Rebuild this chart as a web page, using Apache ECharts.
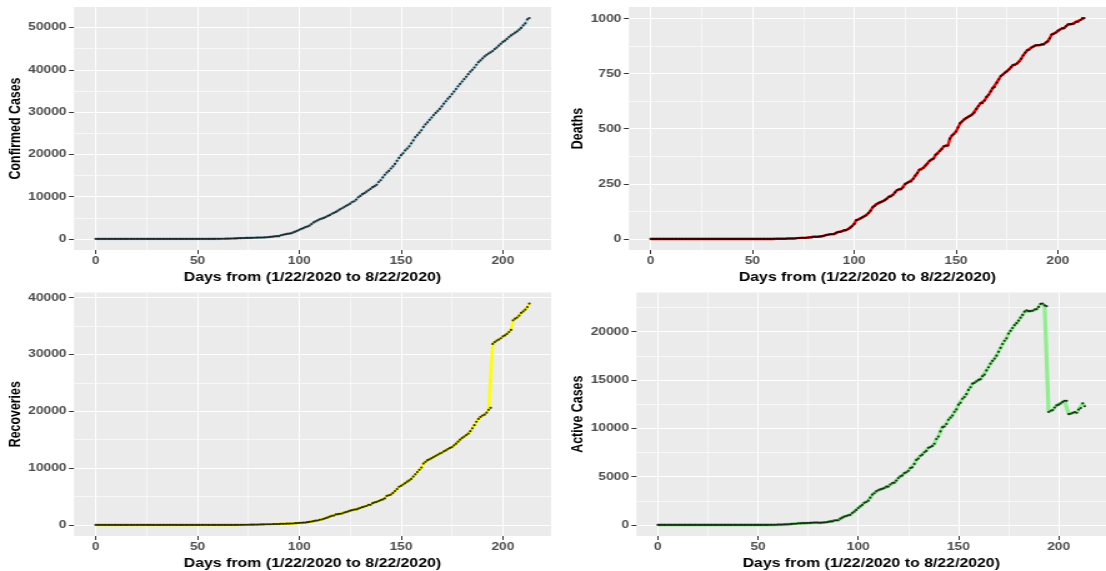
<!DOCTYPE html>
<html>
<head>
<meta charset="utf-8">
<script src="https://cdn.jsdelivr.net/npm/echarts@6/dist/echarts.min.js"></script>
<style>
  html, body { margin: 0; padding: 0; background: #ffffff; overflow: hidden; }
  /* the reference is stretched sideways, so draw narrow and widen it */
  #chart { width: 885px; height: 571px; transform: scaleX(1.24972); transform-origin: 0 0; }
</style>
</head>
<body>
<div id="chart"></div>
<script>
// cumulative counts, one value per day from 1/22/2020 (day 0) to 8/22/2020 (day 213)
const confirmed = [
  0, 0, 0, 0, 0, 0, 0, 0, 0, 0,
  0, 0, 0, 0, 0, 0, 0, 0, 0, 0,
  0, 0, 0, 0, 0, 0, 0, 0, 0, 0,
  0, 0, 0, 0, 0, 0, 0, 1, 1, 1,
  1, 1, 1, 1, 1, 1, 1, 2, 2, 2,
  2, 2, 2, 2, 2, 3, 8, 8, 12, 22,
  30, 40, 44, 51, 65, 70, 97, 111, 131, 135,
  174, 184, 210, 214, 232, 238, 254, 276, 288, 305,
  318, 323, 343, 373, 407, 442, 493, 542, 627, 665,
  665, 873, 981, 1095, 1182, 1273, 1337, 1532, 1728, 1932,
  2170, 2388, 2558, 2802, 2950, 3145, 3526, 3912, 4151, 4399,
  4641, 4787, 4971, 5162, 5445, 5621, 5959, 6175, 6401, 6677,
  7016, 7261, 7526, 7839, 8068, 8344, 8733, 8915, 9302, 9855,
  10162, 10578, 10819, 11166, 11516, 11844, 12233, 12486, 12801, 13464,
  13873, 14554, 15181, 15682, 16085, 16658, 17148, 17735, 18480, 19147,
  19808, 20244, 20919, 21371, 21895, 22614, 23298, 24077, 24567, 25133,
  25694, 26484, 27110, 27564, 28167, 28711, 29286, 29789, 30249, 30748,
  31323, 31987, 32558, 33153, 33616, 34259, 34854, 35454, 36107, 36663,
  37225, 37801, 38344, 38948, 39539, 39977, 40532, 41180, 41804, 42208,
  42689, 43151, 43537, 43841, 44129, 44433, 44890, 45244, 45687, 46140,
  46577, 46867, 47290, 47743, 48116, 48445, 48770, 49068, 49485, 49895,
  50488, 50964, 51905, 52227
]

const deaths = [
  0, 0, 0, 0, 0, 0, 0, 0, 0, 0,
  0, 0, 0, 0, 0, 0, 0, 0, 0, 0,
  0, 0, 0, 0, 0, 0, 0, 0, 0, 0,
  0, 0, 0, 0, 0, 0, 0, 0, 0, 0,
  0, 0, 0, 0, 0, 0, 0, 0, 0, 0,
  0, 0, 0, 0, 0, 0, 0, 0, 0, 0,
  0, 1, 1, 1, 1, 1, 1, 2, 2, 2,
  2, 2, 4, 4, 5, 5, 5, 6, 7, 7,
  10, 10, 10, 11, 12, 13, 17, 19, 21, 22,
  22, 28, 31, 32, 35, 40, 40, 44, 51, 58,
  68, 85, 87, 93, 98, 103, 107, 117, 128, 143,
  150, 158, 164, 167, 171, 176, 182, 191, 192, 200,
  211, 221, 226, 226, 233, 249, 254, 259, 261, 273,
  287, 299, 314, 315, 323, 333, 342, 354, 361, 365,
  382, 387, 399, 407, 420, 424, 424, 455, 469, 475,
  487, 506, 525, 533, 542, 549, 554, 558, 565, 573,
  590, 603, 615, 616, 628, 644, 654, 669, 684, 689,
  709, 724, 739, 745, 754, 760, 769, 779, 789, 789,
  796, 805, 817, 833, 845, 856, 858, 868, 873, 878,
  879, 879, 883, 883, 891, 896, 910, 927, 930, 936,
  945, 950, 956, 956, 965, 973, 974, 975, 977, 985,
  985, 993, 1002, 1002
]

const recovered = [
  0, 0, 0, 0, 0, 0, 0, 0, 0, 0,
  0, 0, 0, 0, 0, 0, 0, 0, 0, 0,
  0, 0, 0, 0, 0, 0, 0, 0, 0, 0,
  0, 0, 0, 0, 0, 0, 0, 0, 0, 0,
  0, 0, 0, 0, 0, 0, 0, 0, 0, 0,
  0, 0, 0, 0, 0, 0, 0, 0, 2, 2,
  2, 2, 2, 2, 3, 3, 3, 3, 8, 9,
  9, 20, 20, 25, 35, 35, 44, 44, 51, 58,
  70, 91, 91, 99, 117, 117, 117, 159, 159, 159,
  159, 197, 197, 208, 222, 239, 255, 255, 307, 319,
  351, 385, 400, 417, 481, 534, 601, 667, 745, 778,
  902, 959, 1070, 1180, 1320, 1472, 1594, 1644, 1840, 1886,
  1958, 2007, 2174, 2263, 2385, 2501, 2592, 2697, 2728, 2856,
  3007, 3122, 3239, 3329, 3535, 3535, 3826, 3959, 4040, 4206,
  4351, 4494, 4663, 5101, 5220, 5349, 5623, 5967, 6307, 6718,
  6879, 7109, 7338, 7613, 7822, 8100, 8500, 8900, 9300, 9700,
  10100, 10800, 11100, 11400, 11550, 11750, 11950, 12150, 12350, 12550,
  12700, 12950, 13100, 13350, 13550, 13700, 14000, 14300, 14650, 15000,
  15300, 15550, 15800, 16050, 16500, 17000, 17550, 18150, 18650, 19000,
  19250, 19400, 19750, 20250, 20600, 31851, 32165, 32430, 32611, 32839,
  33186, 33346, 33609, 33943, 34309, 35998, 36290, 36497, 36834, 37304,
  37565, 37885, 38322, 38945
]

const active = [
  0, 0, 0, 0, 0, 0, 0, 0, 0, 0,
  0, 0, 0, 0, 0, 0, 0, 0, 0, 0,
  0, 0, 0, 0, 0, 0, 0, 0, 0, 0,
  0, 0, 0, 0, 0, 0, 0, 1, 1, 1,
  1, 1, 1, 1, 1, 1, 1, 2, 2, 2,
  2, 2, 2, 2, 2, 3, 8, 8, 10, 20,
  28, 37, 41, 48, 61, 66, 93, 106, 121, 124,
  163, 162, 186, 185, 192, 198, 205, 226, 230, 240,
  238, 222, 242, 263, 278, 312, 359, 364, 447, 484,
  484, 648, 753, 855, 925, 994, 1042, 1233, 1370, 1555,
  1751, 1918, 2071, 2292, 2371, 2508, 2818, 3128, 3278, 3478,
  3589, 3670, 3737, 3815, 3954, 3973, 4183, 4340, 4369, 4591,
  4847, 5033, 5126, 5350, 5450, 5594, 5887, 5959, 6313, 6726,
  6868, 7157, 7266, 7522, 7658, 7976, 8065, 8173, 8400, 8893,
  9140, 9673, 10119, 10174, 10445, 10885, 11101, 11313, 11704, 11954,
  12442, 12629, 13056, 13225, 13531, 13965, 14244, 14619, 14702, 14860,
  15004, 15081, 15395, 15548, 15989, 16317, 16682, 16970, 17215, 17509,
  17914, 18313, 18719, 19058, 19312, 19799, 20085, 20375, 20668, 20874,
  21129, 21446, 21727, 22065, 22194, 22121, 22124, 22162, 22281, 22330,
  22560, 22872, 22904, 22708, 22638, 11686, 11815, 11887, 12146, 12365,
  12446, 12571, 12725, 12844, 12842, 11474, 11506, 11596, 11674, 11606,
  11938, 12086, 12581, 12280
]

// tick breaks
const xTicks = [0, 50, 100, 150, 200]
const xMinor = [25, 75, 125, 175]
const confirmedTicks = [0, 10000, 20000, 30000, 40000, 50000]
const confirmedMinor = [5000, 15000, 25000, 35000, 45000]
const deathsTicks = [0, 250, 500, 750, 1000]
const deathsMinor = [125, 375, 625, 875]
const recoveredTicks = [0, 10000, 20000, 30000, 40000]
const recoveredMinor = [5000, 15000, 25000, 35000]
const activeTicks = [0, 5000, 10000, 15000, 20000]
const activeMinor = [2500, 7500, 12500, 17500, 22500]

const xTitle = 'Days from (1/22/2020 to 8/22/2020)'
const font = 'Liberation Sans, Arial, sans-serif'

const panels = [
  { values: confirmed, color: '#ADD8E6', title: 'Confirmed Cases', ticks: confirmedTicks, minor: confirmedMinor,
    box: { left: 59.2, top: 7, width: 381.7, height: 243 }, nameGap: 37, lineWidth: 2.6 },
  { values: deaths, color: '#FF0000', title: 'Deaths', ticks: deathsTicks, minor: deathsMinor,
    box: { left: 503.2, top: 7, width: 389.2, height: 243 }, nameGap: 32.5, lineWidth: 2.4 },
  { values: recovered, color: '#FFFF00', title: 'Recoveries', ticks: recoveredTicks, minor: recoveredMinor,
    box: { left: 59.2, top: 292.5, width: 381.7, height: 243.5 }, nameGap: 37, lineWidth: 2.5 },
  { values: active, color: '#90EE90', title: 'Active Cases', ticks: activeTicks, minor: activeMinor,
    box: { left: 509.3, top: 292.5, width: 383.8, height: 243.5 }, nameGap: 36, lineWidth: 3.2 },
]

// ggplot style range: data range widened by 5% each side
const expand = (lo, hi) => {
  const pad = (hi - lo) * 0.05
  return [lo - pad, hi + pad]
}

const chart = echarts.init(document.getElementById('chart'), null, { renderer: 'canvas' })

const grid = []
const xAxis = []
const yAxis = []
const series = []

const tickLabel = {
  color: '#4D4D4D',
  fontSize: 11,
  fontWeight: 'bold',
  fontFamily: font,
  formatter: (v) => String(v),
}

panels.forEach((p, i) => {
  const n = p.values.length
  const [xMin, xMax] = expand(0, n - 1)
  const [yMin, yMax] = expand(Math.min(...p.values), Math.max(...p.values))

  grid.push({
    ...p.box,
    show: true,
    backgroundColor: '#EBEBEB',
    borderWidth: 0,
    containLabel: false,
  })

  // main x axis: labels, ticks, major grid lines
  xAxis.push({
    type: 'value',
    gridIndex: i,
    position: 'bottom',
    min: xMin,
    max: xMax,
    name: xTitle,
    nameLocation: 'middle',
    nameGap: 21,
    nameTextStyle: { color: '#000', fontSize: 12.7, fontWeight: 'bold', fontFamily: font },
    axisLine: { show: false, onZero: false },
    axisTick: { show: true, length: 4, customValues: xTicks, lineStyle: { color: '#333333', width: 1 } },
    axisLabel: { ...tickLabel, margin: 5, customValues: xTicks },
    splitLine: { show: true, lineStyle: { color: '#ffffff', width: 1.1 } },
  })
  // minor x grid lines
  xAxis.push({
    type: 'value',
    gridIndex: i,
    position: 'top',
    min: xMin,
    max: xMax,
    axisLine: { show: false, onZero: false },
    axisTick: { show: false, customValues: xMinor },
    axisLabel: { show: false, customValues: xMinor },
    splitLine: { show: true, lineStyle: { color: '#ffffff', width: 0.55 } },
  })

  yAxis.push({
    type: 'value',
    gridIndex: i,
    position: 'left',
    min: yMin,
    max: yMax,
    name: p.title,
    nameLocation: 'middle',
    nameGap: p.nameGap,
    nameTextStyle: { color: '#000', fontSize: 12.4, fontWeight: 'bold', fontFamily: font },
    axisLine: { show: false, onZero: false },
    axisTick: { show: true, length: 4, customValues: p.ticks, lineStyle: { color: '#333333', width: 1 } },
    axisLabel: { ...tickLabel, margin: 6, customValues: p.ticks },
    splitLine: { show: true, lineStyle: { color: '#ffffff', width: 1.2 } },
  })
  yAxis.push({
    type: 'value',
    gridIndex: i,
    position: 'right',
    min: yMin,
    max: yMax,
    axisLine: { show: false, onZero: false },
    axisTick: { show: false, customValues: p.minor },
    axisLabel: { show: false, customValues: p.minor },
    splitLine: { show: true, lineStyle: { color: '#ffffff', width: 0.6 } },
  })

  const points = p.values.map((v, day) => [day, v])

  series.push({
    type: 'line',
    xAxisIndex: 2 * i,
    yAxisIndex: 2 * i,
    data: points,
    symbol: 'none',
    showSymbol: false,
    lineStyle: { color: p.color, width: p.lineWidth },
    itemStyle: { color: p.color },
    z: 2,
  })
  series.push({
    type: 'scatter',
    xAxisIndex: 2 * i,
    yAxisIndex: 2 * i,
    data: points,
    symbol: 'circle',
    symbolSize: 2.2,
    itemStyle: { color: '#000000' },
    z: 3,
  })
})

chart.setOption({
  backgroundColor: '#ffffff',
  animation: false,
  grid,
  xAxis,
  yAxis,
  series,
})
</script>
</body>
</html>
